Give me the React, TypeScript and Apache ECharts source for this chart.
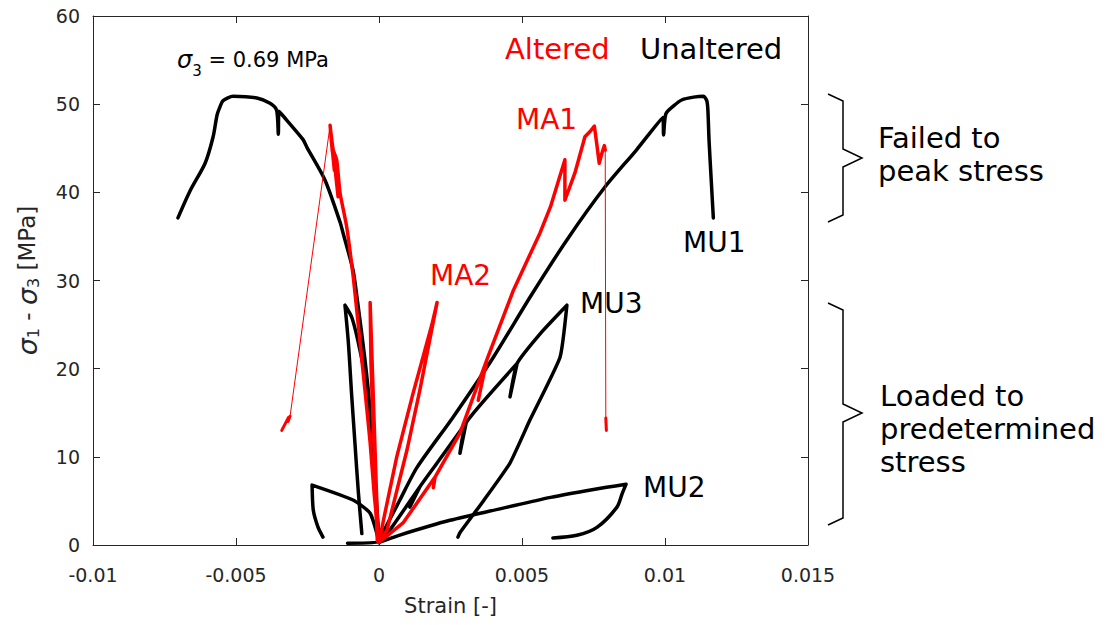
import { useEffect, useRef } from "react";
import * as echarts from "echarts";

type Pt = [number, number];

// Axis ranges: strain [-] and deviatoric stress [MPa]
const strainMin = -0.01;
const strainMax = 0.015;
const strainStep = 0.005;
const stressMin = 0;
const stressMax = 60;
const stressStep = 10;

// Unaltered specimens (black): [strain, sigma1 - sigma3]
const mu1Axial: Pt[] = [
  [0, 0.3], [0.00014, 1.4], [0.00073, 5.1], [0.00133, 8.8], [0.00259, 14.5],
  [0.004, 21.3], [0.00528, 28.1], [0.00657, 34.6], [0.0079, 40.6], [0.009, 44.8],
  [0.00993, 48.5], [0.00995, 46.5], [0.01003, 48.9], [0.0103, 49.8], [0.0106, 50.5],
  [0.011, 50.8], [0.01134, 50.9], [0.01146, 50.4], [0.0115, 49.3], [0.01154, 45.9],
  [0.01163, 40.6], [0.01169, 37.1],
];
const mu1Lateral: Pt[] = [
  [0, 0.3], [-0.00014, 7.7], [-0.00031, 15.3], [-0.00049, 21.0], [-0.00077, 28.1],
  [-0.00091, 31.2], [-0.00125, 35.3], [-0.00136, 36.6], [-0.00189, 41.4], [-0.00252, 45.1],
  [-0.00266, 46.0], [-0.00339, 48.8], [-0.0035, 49.2], [-0.00352, 46.6], [-0.00358, 49.3],
  [-0.00381, 50.1], [-0.00427, 50.7], [-0.0051, 50.9], [-0.00545, 50.4], [-0.00556, 49.7],
  [-0.00566, 48.8], [-0.0058, 46.3], [-0.00608, 43.3], [-0.0066, 40.2], [-0.00703, 37.1],
];
const mu2Axial: Pt[] = [
  [0, 0.3], [0.0007, 1.1], [0.00248, 2.8], [0.00423, 4.1], [0.006, 5.4], [0.0075, 6.3],
  [0.00864, 6.9], [0.0085, 5.8], [0.00832, 4.3], [0.00762, 2.0], [0.00692, 1.1], [0.00608, 0.8],
];
const mu2Lateral: Pt[] = [
  [-0.0011, 0.2], [0, 0.3], [-0.00031, 3.6], [-0.00091, 5.1], [-0.00234, 6.8],
  [-0.0023, 4.0], [-0.00213, 2.0], [-0.00196, 0.9],
];
const mu3Axial: Pt[] = [
  [0, 0.3], [0.00038, 1.7], [0.00143, 6.6], [0.00108, 4.3], [0.00143, 6.6], [0.00203, 9.3],
  [0.00305, 13.9], [0.00283, 10.4], [0.00305, 13.9], [0.00483, 20.6], [0.00458, 16.8],
  [0.00483, 20.6], [0.0057, 24.2], [0.00657, 27.2], [0.00633, 21.3], [0.00528, 14.2],
  [0.00458, 9.3], [0.00365, 5.0], [0.00283, 1.4], [0.00276, 0.9],
];
const mu3Lateral: Pt[] = [
  [0, 0.3], [-0.00018, 8], [-0.00035, 14.5], [-0.00049, 19.1], [-0.00072, 22.9],
  [-0.00095, 25.8], [-0.00119, 27.2], [-0.00107, 22.9], [-0.00096, 17.2], [-0.00084, 11.5],
  [-0.00072, 5.9], [-0.0006, 1.3],
];

// Altered specimens (red)
const ma1Axial: Pt[] = [
  [0, 0.3], [0.00084, 2.5], [0.00196, 7.7], [0.0019, 6.5], [0.00196, 7.7], [0.00283, 12.7],
  [0.00377, 21.0], [0.00347, 16.4], [0.00377, 21.0], [0.0047, 28.9], [0.00563, 35.4],
  [0.006, 38.4], [0.0065, 43.7], [0.0065, 39.1], [0.00685, 42.2], [0.0072, 46.3],
  [0.00738, 46.9], [0.00753, 47.5], [0.00761, 45.6], [0.0077, 43.3], [0.00779, 44.4],
  [0.00788, 45.3], [0.00791, 44.8],
];
const ma1AxialDrop: Pt[] = [[0.00791, 44.8], [0.00793, 14.4]];
const ma1AxialResidual: Pt[] = [[0.00793, 14.4], [0.00795, 13.0]];
const ma1Lateral: Pt[] = [
  [0, 0.3], [-0.00016, 5.5], [-0.00031, 11.6], [-0.00048, 17.2], [-0.00066, 22.9],
  [-0.00078, 26.7], [-0.0009, 30.4], [-0.00113, 36.1], [-0.00136, 39.9], [-0.00148, 43.7],
  [-0.0016, 44.8], [-0.00171, 47.6], [-0.00163, 44.6], [-0.00168, 46.4], [-0.00156, 42.5],
  [-0.00158, 44.0], [-0.00143, 39.5],
];
const ma1LateralDrop: Pt[] = [[-0.00171, 47.6], [-0.00311, 14.6]];
const ma1LateralResidual: Pt[] = [[-0.00311, 14.6], [-0.00318, 14.0], [-0.00316, 14.5], [-0.0034, 13.0]];
const ma2Axial: Pt[] = [
  [0, 0.3], [0.00028, 1.7], [0.00098, 10.8], [0.00143, 17.6], [0.00203, 27.5],
  [0.00185, 25.0], [0.00119, 17.2], [0.00062, 10.0], [0.0002, 3.5], [0, 0.3],
];
const ma2Lateral: Pt[] = [[-0.00003, 0.3], [-0.00031, 27.5], [-0.00028, 20.5], [-0.00006, 0.5]];

const BLACK = "#000000";
const RED = "#ff0000";
const AXIS = "#262626";
const SANS = "DejaVu Sans";

function curve(name: string, data: Pt[], color: string, width: number, z: number, smooth = 0) {
  return {
    name,
    type: "line",
    data,
    smooth,
    showSymbol: false,
    symbol: "none",
    silent: true,
    z,
    lineStyle: { color, width, cap: "round", join: "round" },
    emphasis: { disabled: true },
  };
}

const formatStrain = (v: number) => {
  const r = Math.round(v * 1e4) / 1e4;
  return r === 0 ? "0" : String(r);
};

function frameAxis(position: string, extra: object) {
  return {
    type: "value",
    position,
    axisLine: { show: true, onZero: false, lineStyle: { color: AXIS, width: 1 } },
    axisTick: { show: true, inside: true, length: 7, lineStyle: { color: AXIS, width: 1 } },
    splitLine: { show: false },
    ...extra,
  };
}

export default function App() {
  const ref = useRef<HTMLDivElement>(null);

  useEffect(() => {
    if (!ref.current) return;
    const chart = echarts.init(ref.current, undefined, { renderer: "svg" });

    const xCommon = { min: strainMin, max: strainMax, interval: strainStep };
    const yCommon = { min: stressMin, max: stressMax, interval: stressStep };

    const label = (text: string, x: number, y: number, color: string, size: number) => ({
      type: "text",
      x,
      y,
      silent: true,
      style: {
        text,
        fill: color,
        fontFamily: SANS,
        fontSize: size,
        textAlign: "left",
        textVerticalAlign: "middle",
      },
    });

    const brace = (top: number, tip: number, bottom: number) => ({
      type: "polyline",
      silent: true,
      shape: {
        points: [
          [828, top], [843, top + 7], [843, tip - 9], [862, tip],
          [843, tip + 9], [843, bottom - 7], [828, bottom],
        ],
      },
      style: { stroke: BLACK, lineWidth: 1.5, fill: "none" },
    });

    chart.setOption({
      animation: false,
      backgroundColor: "#ffffff",
      grid: { left: 93, top: 16, width: 715, height: 529 },
      xAxis: [
        frameAxis("bottom", {
          ...xCommon,
          name: "Strain [-]",
          nameLocation: "middle",
          nameGap: 50,
          nameTextStyle: { color: AXIS, fontFamily: SANS, fontSize: 21 },
          axisLabel: { color: AXIS, fontFamily: SANS, fontSize: 19, margin: 20, formatter: formatStrain },
        }),
        frameAxis("top", { ...xCommon, axisLabel: { show: false } }),
      ],
      yAxis: [
        frameAxis("left", {
          ...yCommon,
          name: "{s|σ}{b|1}{t| - }{s|σ}{b|3}{t| [MPa]}",
          nameLocation: "middle",
          nameRotate: 90,
          nameGap: 52,
          nameTextStyle: {
            color: AXIS,
            fontFamily: SANS,
            fontSize: 23,
            rich: {
              s: { fontFamily: SANS, fontSize: 27, fontStyle: "italic", color: AXIS, lineHeight: 28 },
              b: { fontFamily: SANS, fontSize: 16, color: AXIS, lineHeight: 16, verticalAlign: "bottom" },
              t: { fontFamily: SANS, fontSize: 23, color: AXIS, lineHeight: 28 },
            },
          },
          axisLabel: { color: AXIS, fontFamily: SANS, fontSize: 19, margin: 13 },
        }),
        frameAxis("right", { ...yCommon, axisLabel: { show: false } }),
      ],
      series: [
        curve("MU1 axial", mu1Axial, BLACK, 3.5, 2, 0.25),
        curve("MU1 lateral", mu1Lateral, BLACK, 3.5, 2, 0.25),
        curve("MU2 axial", mu2Axial, BLACK, 3.5, 2, 0.3),
        curve("MU2 lateral", mu2Lateral, BLACK, 3.5, 2, 0.2),
        curve("MU3 axial", mu3Axial, BLACK, 3.5, 2, 0.15),
        curve("MU3 lateral", mu3Lateral, BLACK, 3.5, 2, 0.3),
        curve("MA1 axial", ma1Axial, RED, 3.5, 3),
        curve("MA1 axial drop", ma1AxialDrop, RED, 1, 3),
        curve("MA1 axial residual", ma1AxialResidual, RED, 3, 3),
        curve("MA1 lateral", ma1Lateral, RED, 3.5, 3, 0.2),
        curve("MA1 lateral drop", ma1LateralDrop, RED, 1, 3),
        curve("MA1 lateral residual", ma1LateralResidual, RED, 3, 3),
        curve("MA2 axial", ma2Axial, RED, 3.5, 3),
        curve("MA2 lateral", ma2Lateral, RED, 3.5, 3),
      ],
      graphic: [
        {
          type: "text",
          x: 177,
          y: 60,
          silent: true,
          style: {
            text: "{s|σ}{b|3}{t| = 0.69 MPa}",
            fill: BLACK,
            fontFamily: SANS,
            fontSize: 22,
            textAlign: "left",
            textVerticalAlign: "middle",
            rich: {
              s: { fontFamily: SANS, fontSize: 24, fontStyle: "italic", fill: BLACK, lineHeight: 36 },
              b: { fontFamily: SANS, fontSize: 15, fill: BLACK, lineHeight: 14, verticalAlign: "bottom" },
              t: { fontFamily: SANS, fontSize: 21, fill: BLACK, lineHeight: 36 },
            },
          },
        },
        label("Altered", 505, 49, RED, 29),
        label("Unaltered", 640, 49, BLACK, 29),
        label("MA1", 516, 119, RED, 28),
        label("MA2", 430, 275, RED, 28),
        label("MU1", 683, 242, BLACK, 28),
        label("MU3", 580, 303, BLACK, 28),
        label("MU2", 643, 487, BLACK, 28),
        {
          type: "text",
          x: 878,
          y: 154,
          silent: true,
          style: {
            text: "Failed to\npeak stress",
            fill: BLACK,
            fontFamily: SANS,
            fontSize: 29,
            lineHeight: 33,
            textAlign: "left",
            textVerticalAlign: "middle",
          },
        },
        {
          type: "text",
          x: 880,
          y: 429,
          silent: true,
          style: {
            text: "Loaded to\npredetermined\nstress",
            fill: BLACK,
            fontFamily: SANS,
            fontSize: 29,
            lineHeight: 33,
            textAlign: "left",
            textVerticalAlign: "middle",
          },
        },
        brace(94, 158, 222),
        brace(303, 413, 525),
      ],
    });

    return () => chart.dispose();
  }, []);

  return (
    <div
      ref={ref}
      style={{ position: "fixed", left: 0, top: 0, width: 1106, height: 625, background: "#fff" }}
    />
  );
}
